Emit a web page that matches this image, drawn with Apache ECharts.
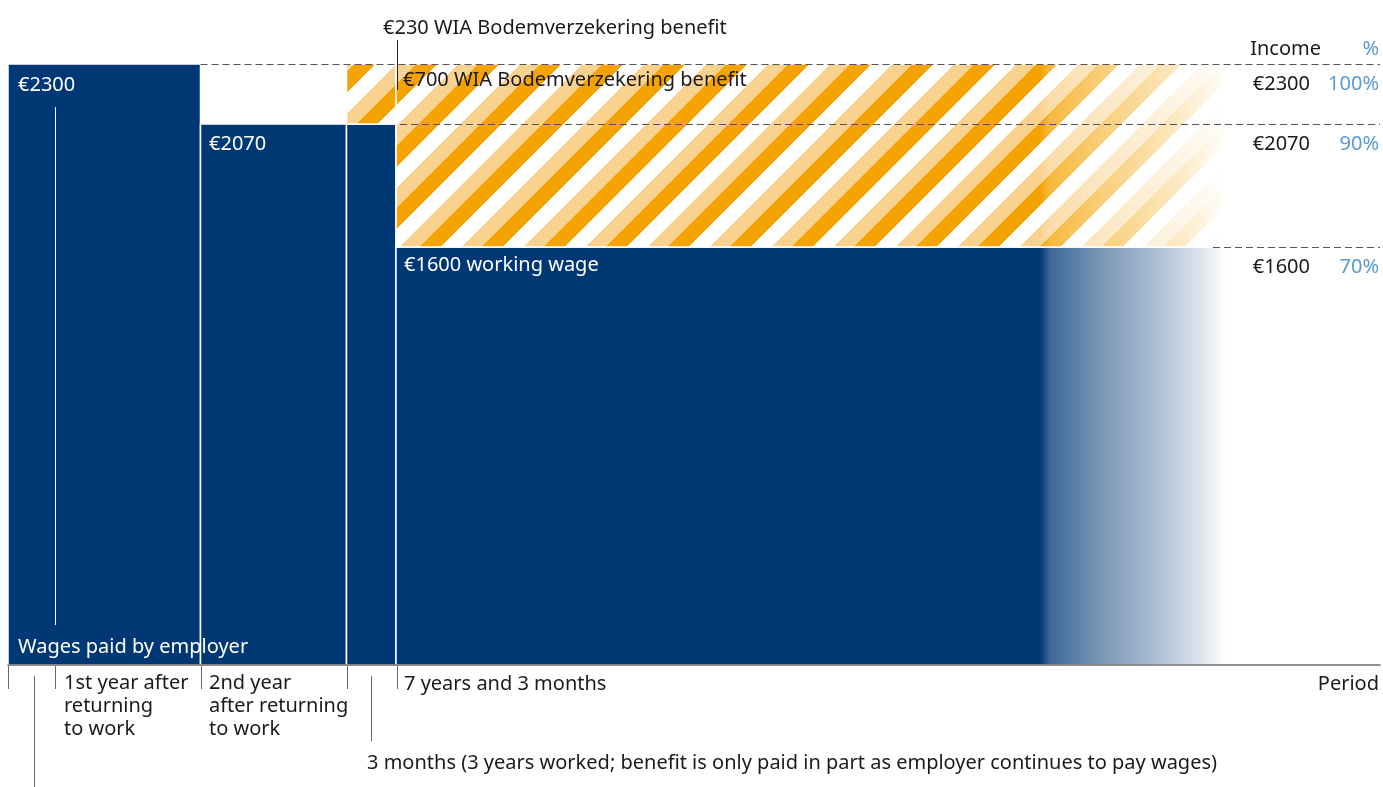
<!DOCTYPE html>
<html><head><meta charset="utf-8">
<script src="https://cdn.jsdelivr.net/npm/echarts@6/dist/echarts.min.js"></script>
<style>html,body{margin:0;padding:0;background:#fff}#c{width:1383px;height:787px}</style>
</head><body><div id="c"></div>
<script>
// Schematic period positions (chart is not to scale)
const wageStart = [0, 192.5, 338.5, 388];
const wageEnd   = [192.5, 338.5, 388, 1222];
const wageLevels = [2300, 2070, 2070, 1600];
const benefitStart = [338.5, 388];
const benefitEnd   = [388, 1222];
const benefitBase  = [2070, 1600];
const benefitTop   = [2300, 2300];
const fadeRange = [1032, 1222];
const incomeLevels = [2300, 2070, 1600];
const incomeLabels = ['€2300', '€2070', '€1600'];
const pctLabels = ['100%', '90%', '70%'];
const guideStart = [192.5, 392, 1205];
const periodTicks = [0, 47, 193, 339, 389];
const periodMax = 1372;
const incomeMax = 2300;

const BLUE = '#003876', DARK = [244, 163, 0], LIGHT = [250, 210, 143];
const FONT = '20px "Noto Sans"';

function makeHatch() {
  const P = 62, c = document.createElement('canvas');
  c.width = P; c.height = P;
  const ctx = c.getContext('2d');
  const img = ctx.createImageData(P, P);
  for (let y = 0; y < P; y++) for (let x = 0; x < P; x++) {
    const s = (((x + y - 46) % P) + P) % P;
    const b = Math.floor(s / (P / 3));
    const col = b === 0 ? DARK : (b === 1 ? [255, 255, 255] : LIGHT);
    const i = (y * P + x) * 4;
    img.data[i] = col[0]; img.data[i + 1] = col[1]; img.data[i + 2] = col[2]; img.data[i + 3] = 255;
  }
  ctx.putImageData(img, 0, 0);
  return c;
}
const hatch = makeHatch();

const chart = echarts.init(document.getElementById('c'), null, {renderer: 'canvas'});

function rectItem(api, x0, x1, y0, y1, style) {
  const p0 = api.coord([x0, y1]), p1 = api.coord([x1, y0]);
  return {type: 'rect', shape: {x: p0[0], y: p0[1], width: p1[0] - p0[0], height: p1[1] - p0[1]}, style: style};
}

chart.setOption({
  animation: false,
  grid: {left: 8, right: 3, top: 64, bottom: 122},
  xAxis: {type: 'value', min: 0, max: periodMax, z: 10,
    axisLine: {show: true, lineStyle: {color: '#6b6b6b', width: 1.5}},
    axisTick: {show: false}, axisLabel: {show: false}, splitLine: {show: false}},
  yAxis: {type: 'value', min: 0, max: incomeMax, show: false, splitLine: {show: false}},
  series: [
    {type: 'custom', name: 'Wages', z: 2,
      data: wageLevels.map((v, i) => [wageStart[i], wageEnd[i], v]),
      renderItem: (p, api) => rectItem(api, api.value(0), api.value(1), 0, api.value(2),
        {fill: BLUE, stroke: '#fff', lineWidth: 1.5})},
    {type: 'custom', name: 'Benefit', z: 2,
      data: benefitTop.map((v, i) => [benefitStart[i], benefitEnd[i], benefitBase[i], v]),
      renderItem: (p, api) => rectItem(api, api.value(0), api.value(1), api.value(2), api.value(3),
        {fill: {image: hatch, repeat: 'repeat'}, stroke: '#fff', lineWidth: 1.5})},
    {type: 'custom', name: 'Fade', z: 3,
      data: [[fadeRange[0], fadeRange[1]]],
      renderItem: (p, api) => rectItem(api, api.value(0), api.value(1) + 2, 0, incomeMax + 10, {
        fill: new echarts.graphic.LinearGradient(0, 0, 1, 0, [
          {offset: 0, color: 'rgba(255,255,255,0)'},
          {offset: 0.05, color: 'rgba(255,255,255,0.24)'},
          {offset: 0.32, color: 'rgba(255,255,255,0.48)'},
          {offset: 0.58, color: 'rgba(255,255,255,0.66)'},
          {offset: 0.84, color: 'rgba(255,255,255,0.87)'},
          {offset: 0.97, color: 'rgba(255,255,255,1)'},
          {offset: 1, color: 'rgba(255,255,255,1)'}])})},
    {type: 'custom', name: 'Guides', z: 4,
      data: incomeLevels.map((v, i) => [guideStart[i], periodMax, v]),
      renderItem: (p, api) => {
        const a = api.coord([api.value(0), api.value(2)]), b = api.coord([api.value(1), api.value(2)]);
        return {type: 'line', shape: {x1: a[0], y1: Math.round(a[1]) + 0.5, x2: b[0], y2: Math.round(b[1]) + 0.5},
          style: {stroke: '#555', lineWidth: 1, lineDash: [7, 4]}};
      }}
  ]
});

// annotations
const px = (x, y) => chart.convertToPixel({gridIndex: 0}, [x, y]);
const y0 = px(0, 0)[1];
const g = [];
const txt = (text, x, y, fill, align, extra) => g.push(Object.assign({type: 'text', z: 20,
  style: Object.assign({text: text, x: x, y: y, fill: fill, font: FONT, textAlign: align || 'left', textVerticalAlign: 'middle'}, extra || {})}));
const line = (x1, y1, x2, y2, color) => g.push({type: 'line', z: 20,
  shape: {x1: x1, y1: y1, x2: x2, y2: y2}, style: {stroke: color, lineWidth: 1}});

periodTicks.forEach(v => { const x = Math.round(px(v, 0)[0]) + 0.5; line(x, y0 + 1, x, y0 + 24, '#666'); });
const lx1 = Math.round(px(26, 0)[0]) + 0.5, lx2 = Math.round(px(363, 0)[0]) + 0.5, lx3 = Math.round(px(389, 0)[0]) + 0.5;
line(lx1, y0 + 11, lx1, 787, '#666');
line(lx2, y0 + 11, lx2, y0 + 76, '#666');
line(lx3, 40, lx3, 90, '#222');
const wx = Math.round(px(47, 0)[0]) + 0.5;
line(wx, 107, wx, 625, '#fff');

const TXT = '#1a1a1a', PCT = '#5b9bd5';
txt('€230 WIA Bodemverzekering benefit', 383, 28, TXT);
txt('Income', 1321, 49, TXT, 'right');
txt('%', 1379, 49, PCT, 'right');
incomeLevels.forEach((v, i) => {
  const y = px(0, v)[1] + 20;
  txt(incomeLabels[i], 1310, y, TXT, 'right');
  txt(pctLabels[i], 1379, y, PCT, 'right');
});
txt('€2300', 18, px(0, 2300)[1] + 21, '#fff');
txt('€2070', 209, px(0, 2070)[1] + 20, '#fff');
txt('€700 WIA Bodemverzekering benefit', 403, 80, TXT);
txt('€1600 working wage', 404, px(0, 1600)[1] + 18, '#fff');
txt('Wages paid by employer', 18, y0 - 18, '#fff');
txt('1st year after\nreturning\nto work', 64, y0 + 7, TXT, 'left', {textVerticalAlign: 'top', lineHeight: 23});
txt('2nd year\nafter returning\nto work', 209, y0 + 7, TXT, 'left', {textVerticalAlign: 'top', lineHeight: 23});
txt('7 years and 3 months', 404, y0 + 19, TXT);
txt('Period', 1379, y0 + 19, TXT, 'right');
txt('3 months (3 years worked; benefit is only paid in part as employer continues to pay wages)', 367, 763, TXT);

chart.setOption({graphic: {elements: g}});
</script></body></html>
